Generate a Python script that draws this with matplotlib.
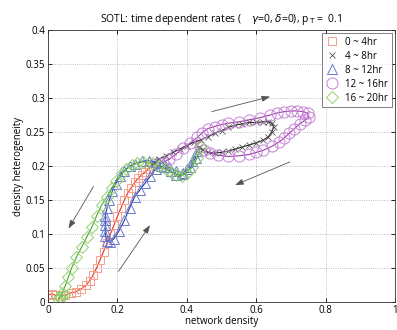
import matplotlib
matplotlib.use('Agg')
import matplotlib.pyplot as plt

plt.rcParams['font.family'] = ['Open Sans', 'DejaVu Sans']

# 0~4hr
red_x = [0.0, 0.01, 0.02, 0.035, 0.05, 0.065, 0.08, 0.095, 0.11, 0.12, 0.13, 0.14, 0.15,
         0.16, 0.17, 0.18, 0.19, 0.2, 0.21, 0.22, 0.23, 0.24, 0.25, 0.26, 0.27, 0.28,
         0.29, 0.30, 0.31]
red_y = [0.01, 0.012, 0.01, 0.009, 0.01, 0.013, 0.015, 0.019, 0.025, 0.031, 0.04, 0.05,
         0.062, 0.074, 0.087, 0.1, 0.113, 0.126, 0.138, 0.15, 0.16, 0.168, 0.176, 0.182,
         0.187, 0.191, 0.196, 0.2, 0.204]

# 4~8hr
blk_x = [0.30, 0.32, 0.34, 0.36, 0.38, 0.40, 0.42, 0.44, 0.46, 0.48, 0.50, 0.52, 0.54,
         0.56, 0.58, 0.60, 0.62, 0.635, 0.645, 0.65, 0.645, 0.635, 0.62, 0.60, 0.58,
         0.56, 0.54, 0.52, 0.50, 0.48, 0.46, 0.445, 0.435]
blk_y = [0.202, 0.21, 0.215, 0.22, 0.225, 0.23, 0.235, 0.238, 0.243, 0.248, 0.252, 0.257,
         0.26, 0.262, 0.264, 0.264, 0.265, 0.265, 0.263, 0.258, 0.25, 0.243, 0.238, 0.234,
         0.231, 0.228, 0.225, 0.222, 0.22, 0.219, 0.22, 0.224, 0.228]

# 8~12hr
blu_x = [0.43, 0.415, 0.40, 0.385, 0.37, 0.355, 0.34, 0.325, 0.31, 0.295, 0.28, 0.265,
         0.25, 0.235, 0.22, 0.205, 0.19, 0.178, 0.17, 0.165, 0.165, 0.165, 0.165, 0.165,
         0.17, 0.177, 0.185, 0.195, 0.207, 0.22, 0.235, 0.25, 0.27, 0.29, 0.31, 0.33,
         0.35, 0.37, 0.39, 0.41, 0.425]
blu_y = [0.222, 0.208, 0.195, 0.188, 0.187, 0.192, 0.198, 0.2, 0.196, 0.185, 0.175,
         0.165, 0.155, 0.138, 0.12, 0.105, 0.093, 0.088, 0.09, 0.097, 0.105, 0.113, 0.12,
         0.127, 0.138, 0.15, 0.163, 0.174, 0.185, 0.193, 0.2, 0.203, 0.207, 0.208, 0.206,
         0.204, 0.198, 0.192, 0.19, 0.198, 0.212]

# 12~16hr
mag_x = [0.33, 0.35, 0.37, 0.39, 0.41, 0.43, 0.445, 0.46, 0.48, 0.50, 0.52, 0.55, 0.58,
         0.61, 0.64, 0.66, 0.68, 0.70, 0.717, 0.735, 0.748, 0.752, 0.74, 0.725, 0.71,
         0.695, 0.68, 0.665, 0.645, 0.62, 0.60, 0.58, 0.55, 0.52, 0.49, 0.467, 0.45, 0.438]
mag_y = [0.205, 0.21, 0.218, 0.226, 0.234, 0.242, 0.249, 0.255, 0.258, 0.261, 0.263,
         0.265, 0.268, 0.271, 0.275, 0.278, 0.28, 0.281, 0.281, 0.28, 0.278, 0.272, 0.267,
         0.262, 0.255, 0.248, 0.241, 0.235, 0.229, 0.223, 0.22, 0.217, 0.215, 0.214,
         0.216, 0.219, 0.223, 0.228]

# 16~20hr
grn_x = [0.44, 0.43, 0.415, 0.40, 0.385, 0.37, 0.355, 0.34, 0.32, 0.30, 0.275, 0.255,
         0.241, 0.225, 0.212, 0.197, 0.183, 0.17, 0.155, 0.14, 0.126, 0.112, 0.097, 0.082,
         0.068, 0.058, 0.049, 0.04, 0.035, 0.03, 0.035, 0.045]
grn_y = [0.228, 0.212, 0.198, 0.19, 0.186, 0.187, 0.191, 0.196, 0.2, 0.204, 0.206,
         0.204, 0.201, 0.195, 0.189, 0.178, 0.167, 0.155, 0.143, 0.127, 0.11, 0.096,
         0.081, 0.066, 0.05, 0.036, 0.023, 0.013, 0.008, 0.005, 0.006, 0.01]

labels = ['0 ~ 4hr', '4 ~ 8hr', '8 ~ 12hr', '12 ~ 16hr', '16 ~ 20hr']

fig = plt.figure(figsize=(3.97, 3.30), dpi=100)
ax = fig.add_axes([0.121, 0.085, 0.874, 0.824])

ax.plot(red_x, red_y, '-', color='#e83020', lw=0.8, marker='s', ms=6,
        mfc='none', mec='#f4a08a', mew=0.7, label=labels[0])
ax.plot(blk_x, blk_y, '-', color='#222222', lw=0.8, marker='x', ms=4,
        mec='#555555', mew=0.6, label=labels[1])
ax.plot(blu_x, blu_y, '-', color='#2838b0', lw=0.8, marker='^', ms=7,
        mfc='none', mec='#6a78cc', mew=0.7, label=labels[2])
ax.plot(mag_x, mag_y, '-', color='#a03aa8', lw=0.8, marker='o', ms=8,
        mfc='none', mec='#c482d4', mew=0.7, label=labels[3])
ax.plot(grn_x, grn_y, '-', color='#4aa82a', lw=0.8, marker='D', ms=6,
        mfc='none', mec='#92d070', mew=0.7, label=labels[4])

# direction arrows
arrows = [((0.472, 0.280), (0.64, 0.302)),
          ((0.697, 0.206), (0.539, 0.172)),
          ((0.131, 0.170), (0.059, 0.108)),
          ((0.203, 0.045), (0.294, 0.113))]
for (x0, y0), (x1, y1) in arrows:
    ax.annotate('', xy=(x1, y1), xytext=(x0, y0),
                arrowprops=dict(arrowstyle='-|>,head_length=0.5,head_width=0.18',
                                color='#555555', lw=0.6, shrinkA=0, shrinkB=0))

ax.set_xlim(0, 1)
ax.set_ylim(0, 0.4)
ax.set_xticks([0, 0.2, 0.4, 0.6, 0.8, 1])
ax.set_xticklabels(['0', '0.2', '0.4', '0.6', '0.8', '1'])
ax.set_yticks([0, 0.05, 0.1, 0.15, 0.2, 0.25, 0.3, 0.35, 0.4])
ax.set_yticklabels(['0', '0.05', '0.1', '0.15', '0.2', '0.25', '0.3', '0.35', '0.4'])
ax.tick_params(direction='in', top=True, right=True, labelsize=7, length=3, width=0.6,
               pad=2)
ax.grid(True, linestyle=':', color='#aaaaaa', lw=0.6)
for s in ax.spines.values():
    s.set_linewidth(0.6)
    s.set_color('#333333')

ax.set_xlabel('network density', fontsize=7, labelpad=0)
ax.set_ylabel('density heterogeneity', fontsize=7, labelpad=1)
ax.set_title(r'SOTL: time dependent rates (    $\gamma$=0, $\delta$=0), p$_{\,\mathrm{T}}$ =  0.1',
             fontsize=7.5, pad=6)

leg = ax.legend(loc='upper right', fontsize=7, frameon=True, fancybox=False,
                handlelength=1.2, handletextpad=0.8, borderpad=0.4, labelspacing=0.3,
                borderaxespad=0.3)
leg.get_frame().set_edgecolor('#444444')
leg.get_frame().set_linewidth(0.6)
for h in leg.legend_handles:
    h.set_linestyle('none')

fig.savefig('out.png', dpi=100)
